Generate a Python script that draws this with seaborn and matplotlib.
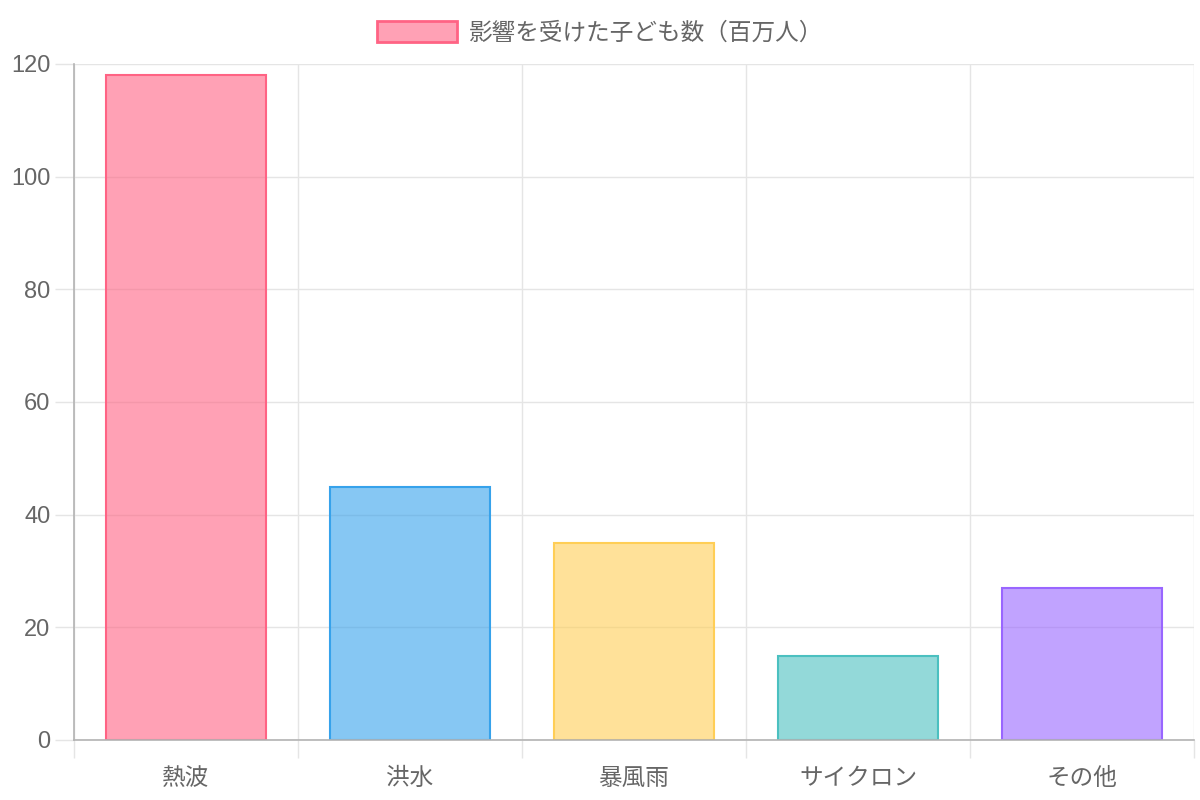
import matplotlib
matplotlib.use("Agg")
import matplotlib.pyplot as plt
import seaborn as sns
import pandas as pd
from matplotlib.patches import Patch

# data
categories = ["熱波", "洪水", "暴風雨", "サイクロン", "その他"]
children_affected = [118, 45, 35, 15, 27]
series_label = "影響を受けた子ども数（百万人）"

fill_colors = [(255, 99, 132), (54, 162, 235), (255, 206, 86), (75, 192, 192), (153, 102, 255)]
fill_colors = [tuple(c / 255 for c in rgb) for rgb in fill_colors]

df = pd.DataFrame({"category": categories, "value": children_affected})

sns.set_theme(style="white")
plt.rcParams["font.family"] = ["Liberation Sans", "Noto Sans CJK JP", "DejaVu Sans"]

fig = plt.figure(figsize=(12, 8), dpi=100)
ax = fig.add_axes([74 / 1200, 60 / 800, 1120 / 1200, 676 / 800])

sns.barplot(data=df, x="category", y="value", hue="category", palette=fill_colors,
            width=0.715, legend=False, ax=ax, saturation=1)

# chart.js style: translucent fill, solid border
for bar, col in zip(ax.patches, fill_colors):
    bar.set_facecolor((*col, 0.6))
    bar.set_edgecolor(col)
    bar.set_linewidth(1.5)

grid_col = "#e5e5e5"
text_col = "#666666"

ax.set_xlim(-0.5, len(categories) - 0.5)
ax.set_ylim(0, 120)
ax.set_yticks(range(0, 121, 20))
ax.set_xticks([i - 0.5 for i in range(len(categories) + 1)], minor=True)

ax.grid(True, axis="y", which="major", color=grid_col, lw=1)
ax.grid(True, axis="x", which="minor", color=grid_col, lw=1)
ax.set_axisbelow(True)

ax.tick_params(axis="y", which="major", left=True, length=14, width=1, color=grid_col,
               labelsize=17, labelcolor=text_col, pad=3)
ax.tick_params(axis="x", which="major", bottom=True, length=0, labelsize=17,
               labelcolor=text_col, pad=20)
ax.tick_params(axis="x", which="minor", bottom=True, length=13, width=1, color=grid_col)

for side in ["top", "right"]:
    ax.spines[side].set_visible(False)
for side in ["left", "bottom"]:
    ax.spines[side].set_color("#b3b3b3")
    ax.spines[side].set_linewidth(1.2)

ax.set_xlabel("")
ax.set_ylabel("")

handle = Patch(facecolor=(*fill_colors[0], 0.6), edgecolor=fill_colors[0], lw=2, label=series_label)
fig.legend(handles=[handle], loc="upper center", bbox_to_anchor=(0.5, 1.0), frameon=False,
           fontsize=17, labelcolor=text_col, handlelength=3.4, handleheight=1.0,
           handletextpad=0.5)

fig.savefig("out.png", dpi=100)
